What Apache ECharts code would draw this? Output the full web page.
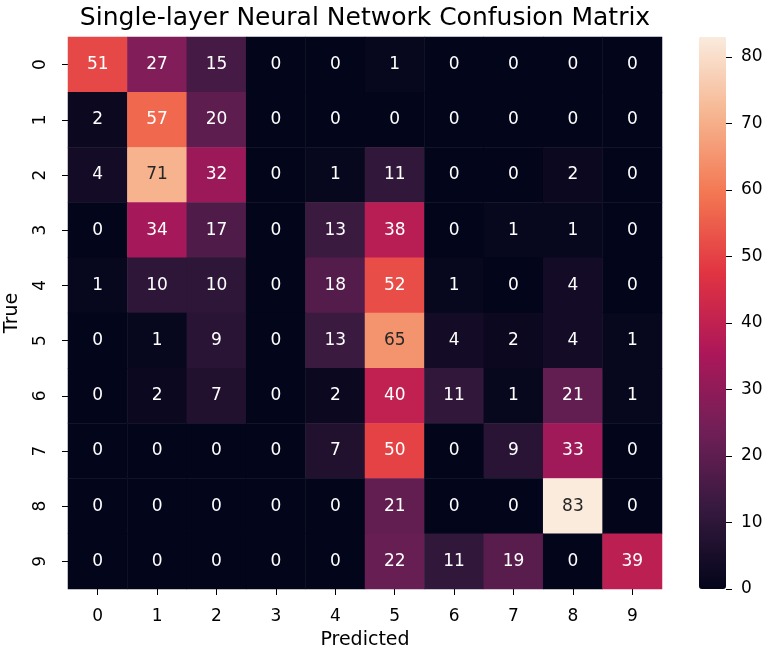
<!DOCTYPE html>
<html>
<head>
<meta charset="utf-8">
<script src="https://cdn.jsdelivr.net/npm/echarts@6/dist/echarts.min.js"></script>
<style>html,body{margin:0;padding:0;background:#fff;}#c{width:769px;height:652px;}</style>
</head>
<body>
<div id="c"></div>
<script>
const predLabels = ['0','1','2','3','4','5','6','7','8','9'];
const trueLabels = ['0','1','2','3','4','5','6','7','8','9'];
const row0 = [51, 27, 15, 0, 0, 1, 0, 0, 0, 0];
const row1 = [2, 57, 20, 0, 0, 0, 0, 0, 0, 0];
const row2 = [4, 71, 32, 0, 1, 11, 0, 0, 2, 0];
const row3 = [0, 34, 17, 0, 13, 38, 0, 1, 1, 0];
const row4 = [1, 10, 10, 0, 18, 52, 1, 0, 4, 0];
const row5 = [0, 1, 9, 0, 13, 65, 4, 2, 4, 1];
const row6 = [0, 2, 7, 0, 2, 40, 11, 1, 21, 1];
const row7 = [0, 0, 0, 0, 7, 50, 0, 9, 33, 0];
const row8 = [0, 0, 0, 0, 0, 21, 0, 0, 83, 0];
const row9 = [0, 0, 0, 0, 0, 22, 11, 19, 0, 39];
const colorbarTicks = [0, 10, 20, 30, 40, 50, 60, 70, 80];
const vmin = 0, vmax = 83;
const cbAxisMax = 90;

const rows = [row0,row1,row2,row3,row4,row5,row6,row7,row8,row9];
const data = [];
rows.forEach((r, i) => r.forEach((v, j) => {
  data.push({value: [j, i, v], label: {color: v > 60 ? '#262626' : '#ffffff'}});
}));

// colour bar geometry: the bar spans vmin..vmax; the tick axis extends to cbAxisMax (off-canvas part)
const barTop = 37, barH = 552;
const axisH = barH * (cbAxisMax - vmin) / (vmax - vmin);
const axisTop = barTop + barH - axisH;

const FONT = 'DejaVu Sans';
const chart = echarts.init(document.getElementById('c'), null, {renderer: 'canvas'});
chart.setOption({
  animation: false,
  backgroundColor: '#ffffff',
  textStyle: {fontFamily: FONT},
  title: {
    text: 'Single-layer Neural Network Confusion Matrix',
    left: 360, top: 1, textAlign: 'center',
    textStyle: {fontFamily: FONT, fontSize: 25, fontWeight: 'normal', color: '#000'}
  },
  grid: [
    {left: 68, top: barTop, width: 594, height: barH, outerBoundsMode: 'none', containLabel: false},
    {left: 699, top: axisTop, width: 27, height: axisH, outerBoundsMode: 'none', containLabel: false}
  ],
  xAxis: [
    {
      type: 'category', data: predLabels, gridIndex: 0,
      name: 'Predicted', nameLocation: 'middle', nameGap: 42,
      nameTextStyle: {fontFamily: FONT, fontSize: 19, color: '#000'},
      axisLine: {show: false},
      axisTick: {show: true, alignWithLabel: true, length: 6, lineStyle: {color: '#000', width: 1}},
      axisLabel: {fontFamily: FONT, fontSize: 17, color: '#000', margin: 19},
      splitLine: {show: false}
    },
    {type: 'value', gridIndex: 1, show: false, min: 0, max: 1}
  ],
  yAxis: [
    {
      type: 'category', data: trueLabels, gridIndex: 0, inverse: true,
      name: 'True', nameLocation: 'middle', nameGap: 46, nameRotate: 90,
      nameTextStyle: {fontFamily: FONT, fontSize: 19, color: '#000'},
      axisLine: {show: false},
      axisTick: {show: true, alignWithLabel: true, length: 6, lineStyle: {color: '#000', width: 1}},
      axisLabel: {fontFamily: FONT, fontSize: 17, color: '#000', rotate: 90, margin: 19},
      splitLine: {show: false}
    },
    {
      type: 'value', gridIndex: 1, position: 'right', min: vmin, max: cbAxisMax, interval: 10,
      axisLine: {show: false, onZero: false},
      axisTick: {show: true, inside: false, length: 6, lineStyle: {color: '#000', width: 1}},
      axisLabel: {fontFamily: FONT, fontSize: 17, color: '#000', margin: 15, showMaxLabel: false,
        formatter: v => colorbarTicks.indexOf(v) >= 0 ? String(v) : ''},
      splitLine: {show: false}
    }
  ],
  visualMap: {
    type: 'continuous', min: vmin, max: vmax, seriesIndex: 0,
    calculable: false, orient: 'vertical',
    left: 699, top: barTop, itemWidth: 27, itemHeight: barH, padding: 0,
    text: null, showLabel: false, hoverLink: false,
    inRange: {color: ['#03051a', '#35193e', '#701f57', '#ad1759', '#e13342', '#f37651', '#f6b48f', '#faebdd']}
  },
  series: [{
    type: 'heatmap', xAxisIndex: 0, yAxisIndex: 0,
    data: data,
    label: {show: true, fontFamily: FONT, fontSize: 17, formatter: p => String(p.value[2])},
    itemStyle: {borderWidth: 0},
    emphasis: {disabled: true}
  }]
});
</script>
</body>
</html>
